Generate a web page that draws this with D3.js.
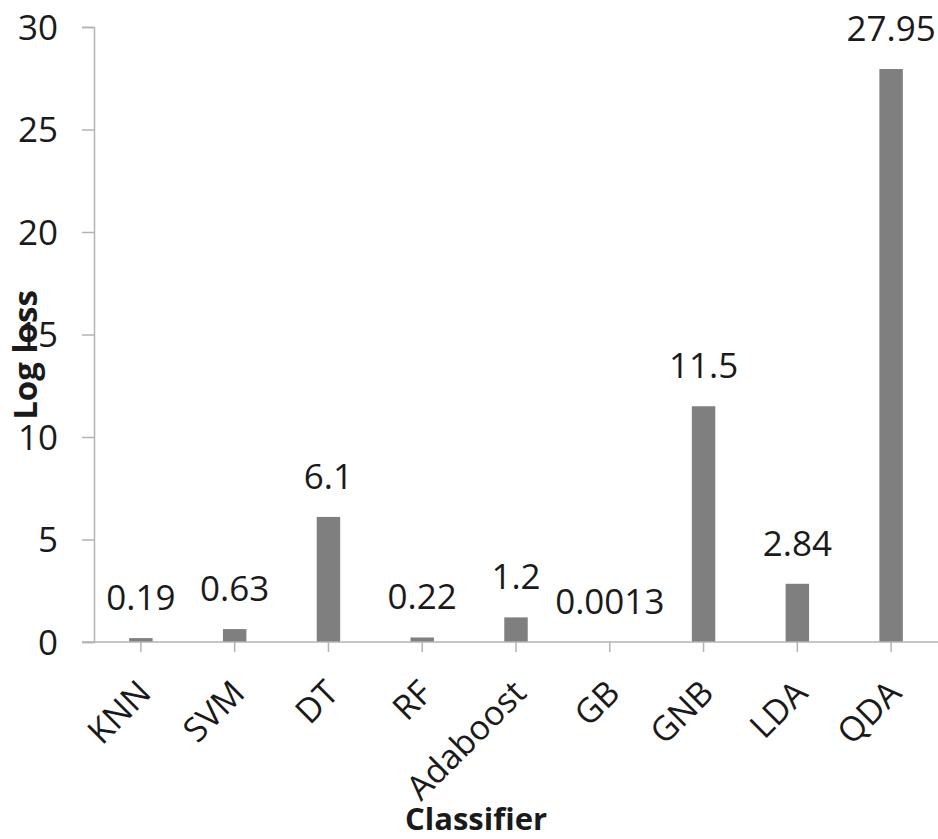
<!DOCTYPE html>
<html>
<head>
<meta charset="utf-8">
<script src="https://cdn.jsdelivr.net/npm/d3@7"></script>
<style>
  body { margin: 0; background: #fff; }
  text { font-family: "Open Sans", sans-serif; fill: #1a1a1a; }
</style>
</head>
<body>
<script>
var classifiers = ["KNN", "SVM", "DT", "RF", "Adaboost", "GB", "GNB", "LDA", "QDA"];
var logLoss = [0.19, 0.63, 6.1, 0.22, 1.2, 0.0013, 11.5, 2.84, 27.95];
var valueLabels = ["0.19", "0.63", "6.1", "0.22", "1.2", "0.0013", "11.5", "2.84", "27.95"];
var yTicks = [0, 5, 10, 15, 20, 25, 30];

var w = 938;
var h = 839;
var axisColor = "#b3b3b3";

var svg = d3.select("body")
    .append("svg")
    .attr("width", w)
    .attr("height", h);

var x = d3.scaleBand()
    .domain(classifiers)
    .range([94, 938]);

var y = d3.scaleLinear()
    .domain([0, 30])
    .range([642, 27]);

var barW = x.bandwidth() * 0.25;

// y axis
var yAxis = svg.append("g")
    .attr("transform", "translate(94,0)")
    .call(d3.axisLeft(y).tickValues(yTicks).tickSize(12).tickPadding(24));
yAxis.select(".domain").attr("stroke", axisColor).attr("stroke-width", 1.5);
yAxis.selectAll(".tick line").attr("stroke", axisColor).attr("stroke-width", 1.5);
yAxis.selectAll(".tick text")
    .attr("font-size", "35px")
    .attr("font-family", "Open Sans, sans-serif")
    .attr("fill", "#1a1a1a")
    .attr("dy", "0.35em");

// bars
svg.selectAll("rect.bar")
   .data(logLoss)
   .enter()
   .append("rect")
   .attr("class", "bar")
   .attr("x", function(d, i) { return x(classifiers[i]) + x.bandwidth() / 2 - barW / 2; })
   .attr("y", function(d) { return y(d); })
   .attr("width", barW)
   .attr("height", function(d) { return y(0) - y(d); })
   .attr("fill", "#7f7f7f");

// x axis
var xAxis = svg.append("g")
    .attr("transform", "translate(0,642)")
    .call(d3.axisBottom(x).tickSize(10).tickSizeOuter(0).tickFormat(""));
xAxis.select(".domain").remove();
xAxis.append("line")
    .attr("x1", 82).attr("x2", 938)
    .attr("stroke", axisColor).attr("stroke-width", 1.5);
xAxis.selectAll(".tick line").attr("stroke", axisColor).attr("stroke-width", 1.5);

// category labels, rotated
svg.selectAll("text.cat")
   .data(classifiers)
   .enter()
   .append("text")
   .attr("class", "cat")
   .text(function(d) { return d; })
   .attr("text-anchor", "end")
   .attr("font-size", "34px")
   .attr("transform", function(d) {
        return "translate(" + (x(d) + x.bandwidth() / 2 + 12) + ",695) rotate(-45)";
   });

// value labels
svg.selectAll("text.val")
   .data(logLoss)
   .enter()
   .append("text")
   .attr("class", "val")
   .text(function(d, i) { return valueLabels[i]; })
   .attr("text-anchor", "middle")
   .attr("font-size", "35px")
   .attr("x", function(d, i) { return x(classifiers[i]) + x.bandwidth() / 2; })
   .attr("y", function(d) { return y(d) - 28; });

// axis titles
svg.append("text")
   .text("Classifier")
   .attr("text-anchor", "middle")
   .attr("font-size", "31px")
   .attr("font-weight", "bold")
   .attr("x", 476)
   .attr("y", 830);

svg.append("text")
   .text("Log loss")
   .attr("text-anchor", "middle")
   .attr("font-size", "33px")
   .attr("font-weight", "bold")
   .attr("transform", "translate(37,355) rotate(-90)");
</script>
</body>
</html>
